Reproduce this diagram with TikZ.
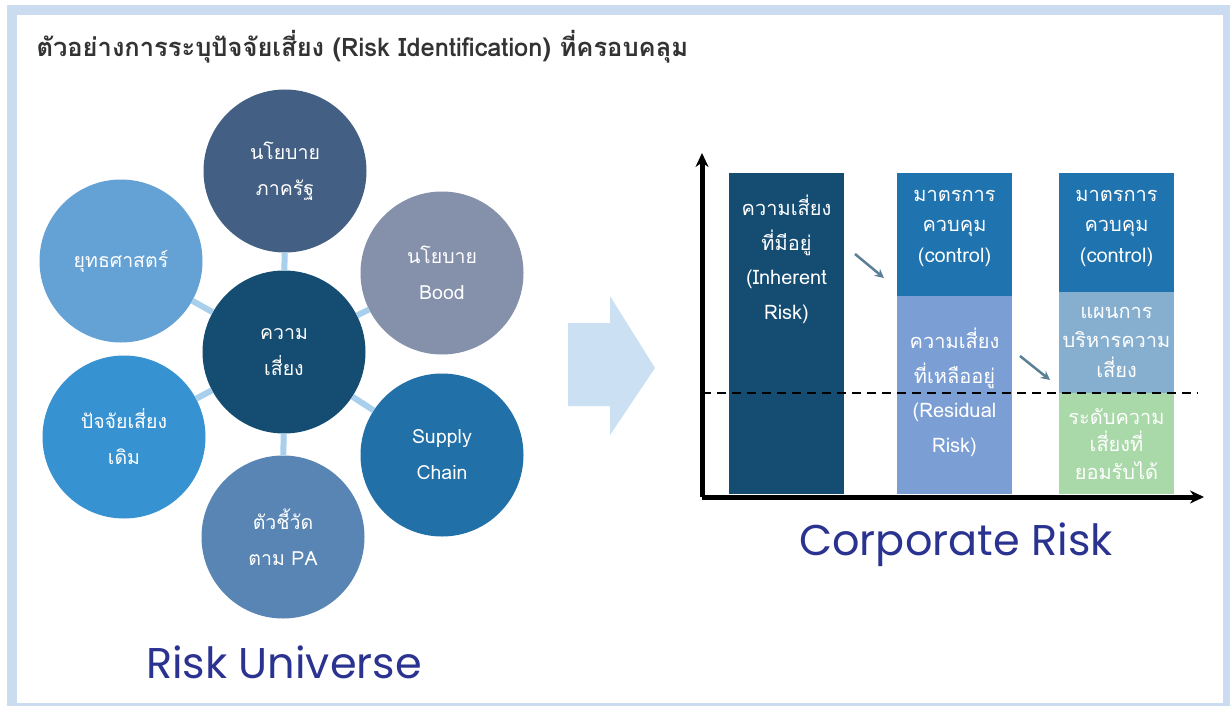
\documentclass[tikz,border=0pt]{standalone}
\usepackage{fontspec}
\newfontfamily\thaifont[Script=Thai]{Loma}
\newfontfamily\headfont{Poppins}
\usetikzlibrary{arrows.meta}

\definecolor{frameblue}{HTML}{CCDCF0}
\definecolor{linkblue}{HTML}{A8CFEB}
\definecolor{arrowblue}{HTML}{CCE0F3}
\definecolor{headblue}{HTML}{2B3390}
\definecolor{govblue}{HTML}{435F83}
\definecolor{stratblue}{HTML}{64A1D5}
\definecolor{boardgray}{HTML}{8590AA}
\definecolor{riskblue}{HTML}{154C72}
\definecolor{oldblue}{HTML}{3692D0}
\definecolor{supblue}{HTML}{2170A8}
\definecolor{kpiblue}{HTML}{5885B3}
\definecolor{ctrlblue}{HTML}{1F73AF}
\definecolor{resblue}{HTML}{7B9FD4}
\definecolor{planblue}{HTML}{86AFCF}
\definecolor{okgreen}{HTML}{A9D8A9}
\definecolor{stepgray}{HTML}{5B7F95}

\tikzset{
  bubble/.style={circle, minimum size=163pt, inner sep=0pt, text=white,
    align=center, font=\thaifont\fontsize{19.5}{36}\selectfont},
  link/.style={line width=6pt, draw=linkblue},
  barlabel/.style={text=white, align=center, inner sep=0pt,
    font=\thaifont\fontsize{20}{34.5}\selectfont},
  stepline/.style={draw=stepgray, line width=2.5pt, -{Stealth[length=9pt,width=9pt]}},
  axis/.style={line width=5pt, -{Stealth[length=14pt,width=13pt]}},
  heading/.style={text=headblue, font=\headfont\fontsize{43}{46}\selectfont},
}

\begin{document}
\begin{tikzpicture}[x=1pt,y=-1pt]
    % frame
    \useasboundingbox (0,0) rectangle (1230,706);
    \fill[frameblue] (7,5) rectangle (1230,706);
    \fill[white] (17,15) rectangle (1223,703);
    \node[anchor=west, text=black!80, font=\thaifont\bfseries\fontsize{25.5}{28}\selectfont] (title) at (33,47)
        {ตัวอย่างการระบุปัจจัยเสี่ยง (Risk Identification) ที่ครอบคลุม};

    % risk universe
    \node[bubble, fill=riskblue] (risk) at (284,352) {ความ\\เสี่ยง};
    \node[bubble, fill=govblue] (gov) at (285,171) {นโยบาย\\ภาครัฐ};
    \node[bubble, fill=stratblue] (strat) at (121,261) {ยุทธศาสตร์};
    \node[bubble, fill=boardgray] (board) at (442,273) {นโยบาย\\Bood};
    \node[bubble, fill=oldblue] (old) at (124,437) {ปัจจัยเสี่ยง\\เดิม};
    \node[bubble, fill=supblue] (supply) at (442,455) {Supply\\Chain};
    \node[bubble, fill=kpiblue] (kpi) at (283,537) {ตัวชี้วัด\\ตาม PA};
    \foreach \n in {gov,strat,board,old,supply,kpi}
        \draw[link] (risk) -- (\n);
    \node[heading] (universe) at (284,662) {Risk Universe};

    % big arrow
    \fill[arrowblue] (568,323) -- (610,323) -- (610,296) -- (655,368)
        -- (610,435) -- (610,406) -- (568,406) -- cycle;

    % bars
    \fill[riskblue] (729,173) rectangle (844,494);
    \fill[ctrlblue] (897,173) rectangle (1012,296);
    \fill[resblue] (897,296) rectangle (1012,494);
    \fill[ctrlblue] (1059,173) rectangle (1174,292);
    \fill[planblue] (1059,292) rectangle (1174,393);
    \fill[okgreen] (1059,393) rectangle (1174,494);

    \node[barlabel, anchor=north] (inh) at (786.5,195) {ความเสี่ยง\\ที่มีอยู่\\(Inherent\\Risk)};
    \node[barlabel, anchor=north, font=\thaifont\fontsize{20}{30.5}\selectfont] (ctrla) at (954.5,190) {มาตรการ\\ควบคุม\\(control)};
    \node[barlabel, anchor=north] (resid) at (954.5,328) {ความเสี่ยง\\ที่เหลืออยู่\\(Residual\\Risk)};
    \node[barlabel, anchor=north, font=\thaifont\fontsize{20}{30.5}\selectfont] (ctrlb) at (1116.5,190) {มาตรการ\\ควบคุม\\(control)};
    \node[barlabel, anchor=north, font=\thaifont\fontsize{20}{29.5}\selectfont] (plan) at (1116.5,307) {แผนการ\\บริหารความ\\เสี่ยง};
    \node[barlabel, anchor=north, font=\thaifont\fontsize{20}{27.5}\selectfont] (accept) at (1116.5,408) {ระดับความ\\เสี่ยงที่\\ยอมรับได้};

    % steps
    \coordinate (s1a) at (855,254);
    \coordinate (s1b) at (884,278);
    \coordinate (s2a) at (1020,356);
    \coordinate (s2b) at (1050,380);
    \draw[stepline] (s1a) -- (s1b);
    \draw[stepline] (s2a) -- (s2b);

    % axes
    \coordinate (origin) at (702,497);
    \coordinate (ytop) at (702,153);
    \coordinate (xend) at (1204,497);
    \coordinate (limA) at (702,393);
    \coordinate (limB) at (1198,393);
    \draw[dashed, line width=2pt, dash pattern=on 9pt off 6pt] (limA) -- (limB);
    \draw[axis] (origin) -- (ytop);
    \draw[axis] (origin) -- (xend);
    \node[heading] (corp) at (956,545) {Corporate Risk};
\end{tikzpicture}
\end{document}
